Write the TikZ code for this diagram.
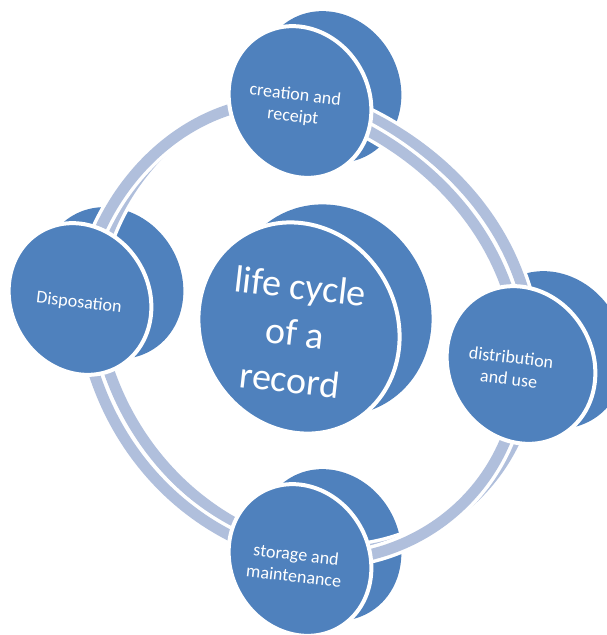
\documentclass[tikz,border=0pt]{standalone}
\usepackage{fontspec}
\setmainfont{Carlito}
\definecolor{discblue}{RGB}{79,129,189}
\definecolor{ringblue}{RGB}{176,191,220}
\begin{document}
\begin{tikzpicture}[x=1pt,y=1pt,
  backdisc/.style={fill=discblue},
  frontdisc/.style={fill=discblue, draw=white, line width=4},
  ringband/.style={draw=ringblue, line width=11, preaction={draw=white, line width=18}},
  steplabel/.style={text=white, font=\fontsize{18}{21.5}\selectfont, align=center, inner sep=0, rotate=-6.5},
  hublabel/.style={text=white, font=\fontsize{38}{47}\selectfont, align=center, inner sep=0, rotate=-6.5}]
\useasboundingbox (0,0) rectangle (607,-635);
\clip (0,0) rectangle (607,-635);
\fill[white] (0,0) rectangle (607,-635);

% centres of the discs
\coordinate (hub)     at (299,-328);
\coordinate (create)  at (300,-102);
\coordinate (distrib) at (521,-365);
\coordinate (store)   at (300,-560);
\coordinate (dispose) at (80,-299);

% rear faces of the ring (the ribbon's depth)
\coordinate (createB)  at ([shift={(13,8)}]create);
\coordinate (distribB) at ([shift={(13,8)}]distrib);
\coordinate (storeB)   at ([shift={(13,8)}]store);
\coordinate (disposeB) at ([shift={(13,8)}]dispose);

% rear faces of the discs
\fill[backdisc, shift={(hub)}, shift={(32,18)}, rotate=-60] (0,0) ellipse [x radius=108, y radius=98];
\fill[backdisc, shift={(create)}, shift={(30,15)}, rotate=-60] (0,0) ellipse [x radius=78, y radius=69];
\fill[backdisc, shift={(distrib)}, shift={(30,15)}, rotate=-60] (0,0) ellipse [x radius=81, y radius=72];
\fill[backdisc, shift={(store)}, shift={(30,15)}, rotate=-60] (0,0) ellipse [x radius=78, y radius=69];
\fill[backdisc, shift={(dispose)}, shift={(32,16)}, rotate=-60] (0,0) ellipse [x radius=78, y radius=69];

% ring, rear ribbon
\draw[ringband] (disposeB) .. controls +(13.3,109.2) and +(-112.3,10.8) .. (createB);
\draw[ringband] (createB) .. controls +(118.5,-36.1) and +(-3.5,130.1) .. (distribB);
\draw[ringband] (distribB) .. controls +(-2.4,-120.9) and +(118.7,-9.9) .. (storeB);
\draw[ringband] (storeB) .. controls +(-126.2,25.6) and +(7.7,-126.9) .. (disposeB);

% ring, front ribbon
\draw[ringband] (dispose) .. controls +(13.3,109.2) and +(-112.3,10.8) .. (create);
\draw[ringband] (create) .. controls +(118.5,-36.1) and +(-3.5,130.1) .. (distrib);
\draw[ringband] (distrib) .. controls +(-2.4,-120.9) and +(118.7,-9.9) .. (store);
\draw[ringband] (store) .. controls +(-126.2,25.6) and +(7.7,-126.9) .. (dispose);

% front faces of the discs
\filldraw[frontdisc, shift={(hub)}, rotate=-60] (0,0) ellipse [x radius=108, y radius=98];
\filldraw[frontdisc, shift={(create)}, rotate=-60] (0,0) ellipse [x radius=78, y radius=69];
\filldraw[frontdisc, shift={(distrib)}, rotate=-60] (0,0) ellipse [x radius=81, y radius=72];
\filldraw[frontdisc, shift={(store)}, rotate=-60] (0,0) ellipse [x radius=78, y radius=69];
\filldraw[frontdisc, shift={(dispose)}, rotate=-60] (0,0) ellipse [x radius=78, y radius=69];

% labels
\node[hublabel]  (hubText)     at (295,-333) {life cycle\\of a\\record};
\node[steplabel] (createText)  at (294,-106) {creation and\\receipt};
\node[steplabel] (distribText) at (510,-368) {distribution\\and use};
\node[steplabel] (storeText)   at (295,-565) {storage and\\maintenance};
\node[steplabel] (disposeText) at (79,-303)  {Disposation};
\end{tikzpicture}
\end{document}
